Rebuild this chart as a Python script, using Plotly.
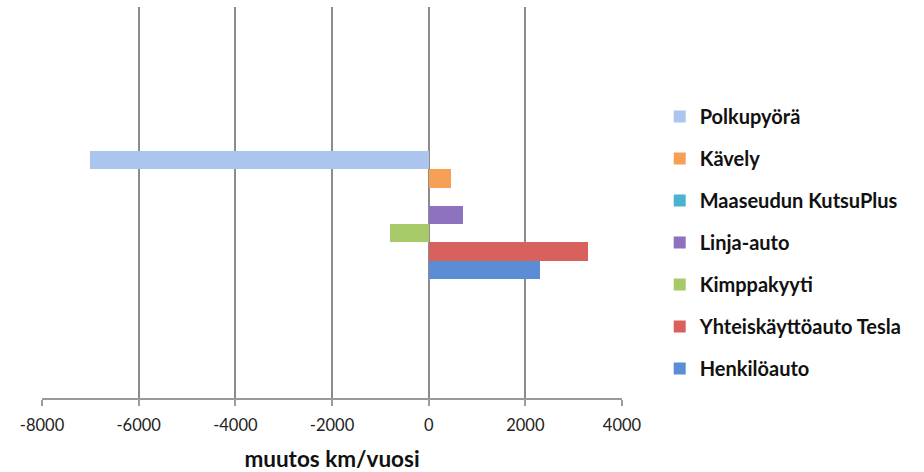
import plotly.graph_objects as go

series = ["Polkupyörä", "Kävely", "Maaseudun KutsuPlus", "Linja-auto",
          "Kimppakyyti", "Yhteiskäyttöauto Tesla", "Henkilöauto"]
values = [-7000, 470, 0, 710, -800, 3300, 2300]
colors = ["#abc5ee", "#f6a055", "#4bb3cf", "#8f72bf", "#a7c96a", "#d8615e", "#5b8dd6"]
category = [""]
xticks = [-8000, -6000, -4000, -2000, 0, 2000, 4000]
xticktext = ["-8000", "-6000", "-4000", "-2000", "0", "2000", "4000"]

fig = go.Figure()
for name, v, c in zip(series, values, colors):
    fig.add_trace(go.Bar(
        y=category, x=[v], name=name, orientation="h",
        marker=dict(color=c, line=dict(width=0)),
        legendgroup=name,
    ))

font = "Lato, 'Open Sans', sans-serif"
fig.update_layout(
    width=924, height=472,
    margin=dict(l=41.5, r=302, t=7, b=74, pad=0),
    paper_bgcolor="white", plot_bgcolor="white",
    barmode="group", bargap=0, bargroupgap=0,
    showlegend=True,
    legend=dict(
        x=1.065, xanchor="left", y=0.398, yanchor="middle",
        yref="paper", xref="paper",
        font=dict(family=font, size=20, color="#111111", weight="bold"),
        tracegroupgap=13, traceorder="grouped",
        bgcolor="rgba(0,0,0,0)",
    ),
    xaxis=dict(
        range=[-8000, 4000], tickvals=xticks, ticktext=xticktext,
        automargin=False,
        showgrid=True, gridcolor="#8c8c8c", gridwidth=1.5,
        zeroline=True, zerolinecolor="#8c8c8c", zerolinewidth=1.5,
        showline=True, linecolor="#9a9a9a", linewidth=1.5,
        ticks="outside", ticklen=6, tickcolor="#9a9a9a", tickwidth=1.5,
        ticklabelstandoff=5,
        tickfont=dict(family=font, size=16.5, color="#222222"),
        title=dict(text="muutos km/vuosi", standoff=19,
                   font=dict(family=font, size=22.5, color="#111111", weight="bold")),
    ),
    yaxis=dict(
        range=[1.43, -1.625], showgrid=False, zeroline=False, automargin=False,
        showline=False, showticklabels=False, ticks="",
    ),
)

fig.write_html("out.html", config={"displayModeBar": False},
               post_script="document.body.style.margin='0';")
